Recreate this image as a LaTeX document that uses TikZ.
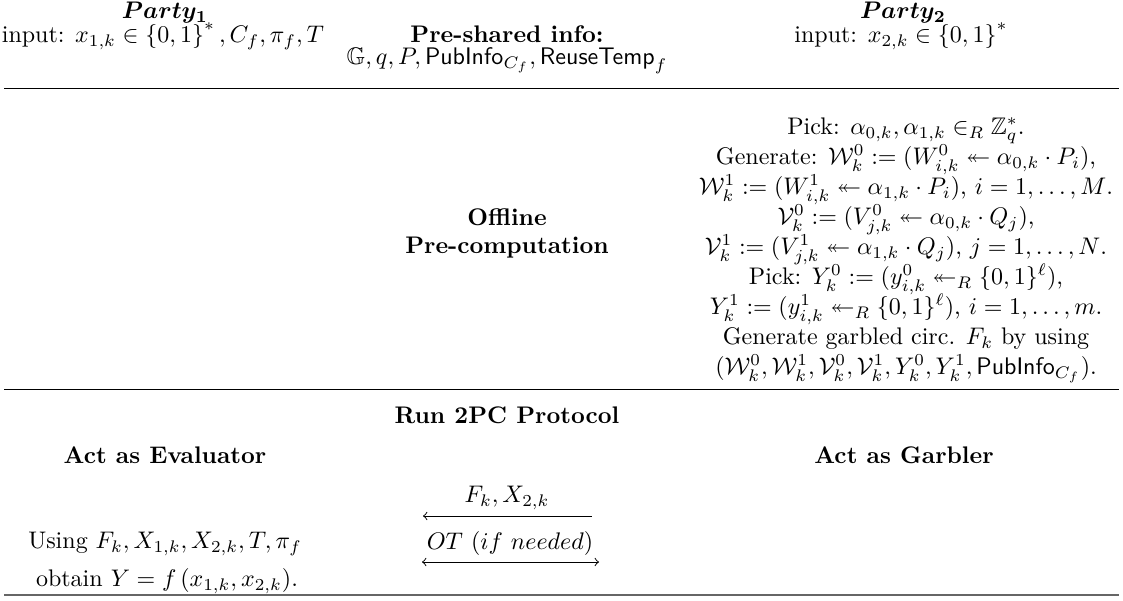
\documentclass[tikz,border=0pt]{standalone}
\usepackage{amsmath}
\usepackage{amssymb}
\usepackage{bm}

\begin{document}
\begin{tikzpicture}[x=0.41667pt, y=-0.41667pt, >=to, black, text=black,
  every node/.style={inner sep=0pt, text height=1.5ex, text depth=.25ex},
  head/.style={font=\bfseries},
  sep/.style={line width=0.4pt},
  lastsep/.style={line width=0.8pt, black!60}]

  \useasboundingbox (0,0) rectangle (1123,600);

  % parties and shared info
  \node (party1) at (165,12) {$\bm{Party_1}$};
  \node (input1) at (163,36) {input: $x_{1,k}\in\left\{0,1\right\}^*, C_f, \pi_f, T$};
  \node[head] (shared) at (507,36) {Pre-shared info:};
  \node (sharedval) at (507,58) {$\mathbb{G}, q, P, \mathsf{PubInfo}_{C_f}, \mathsf{ReuseTemp}_f$};
  \node (party2) at (903,12) {$\bm{Party_2}$};
  \node (input2) at (901,36) {input: $x_{2,k}\in\left\{0,1\right\}^*$};

  \draw[sep] (4,88) -- (1119,88);

  % offline phase
  \node[head] (offline) at (507,219) {Offline};
  \node[head] (precomp) at (507,247) {Pre-computation};
  \foreach \txt [count=\i] in {
    {Pick: $\alpha_{0,k}, \alpha_{1,k} \in_R \mathbb{Z}_q^*$.},
    {Generate: $\mathcal{W}_k^0 := (W_{i,k}^0 \twoheadleftarrow \alpha_{0,k}\cdot P_i)$,},
    {$\mathcal{W}_k^1 := (W_{i,k}^1 \twoheadleftarrow \alpha_{1,k}\cdot P_i)$, $i=1,\ldots,M$.},
    {$\mathcal{V}_k^0 := (V_{j,k}^0 \twoheadleftarrow \alpha_{0,k}\cdot Q_j)$,},
    {$\mathcal{V}_k^1 := (V_{j,k}^1 \twoheadleftarrow \alpha_{1,k}\cdot Q_j)$, $j=1,\ldots,N$.},
    {Pick: $Y_k^0 := (y_{i,k}^0 \twoheadleftarrow_R \{0,1\}^\ell)$,},
    {$Y_k^1 := (y_{i,k}^1 \twoheadleftarrow_R \{0,1\}^\ell)$, $i=1,\ldots,m$.},
    {Generate garbled circ. $F_k$ by using},
    {$(\mathcal{W}_k^0, \mathcal{W}_k^1, \mathcal{V}_k^0, \mathcal{V}_k^1, Y_k^0, Y_k^1, \mathsf{PubInfo}_{C_f})$.}}
    \node (gen\i) at (906,98+30*\i) {\txt};

  \draw[sep] (4,389) -- (1119,389);

  % online phase
  \node[head] (run) at (507,417) {Run 2PC Protocol};
  \node[head] (eval) at (165,457) {Act as Evaluator};
  \node[head] (garb) at (904,457) {Act as Garbler};

  \node (circ) at (507,496) {$F_k, X_{2,k}$};
  \coordinate (circl) at (423,516);
  \coordinate (circr) at (592,516);
  \draw[<-] (circl) -- (circr);

  \node (ot) at (510,543) {$OT~(if~needed)$};
  \coordinate (otl) at (422,562);
  \coordinate (otr) at (599,562);
  \draw[<->] (otl) -- (otr);

  \node (using) at (165,542) {Using $F_k, X_{1,k}, X_{2,k}, T, \pi_f$};
  \node (obtain) at (167,580) {obtain $Y = f\left(x_{1,k}, x_{2,k}\right)$.};

  \draw[lastsep] (4,595) -- (1119,595);
\end{tikzpicture}
\end{document}
